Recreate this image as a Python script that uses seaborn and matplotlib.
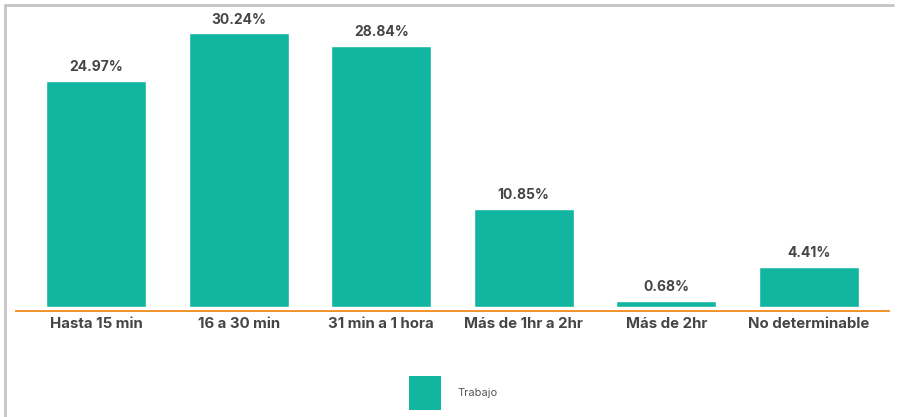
import matplotlib
matplotlib.use("Agg")
import matplotlib.pyplot as plt
import seaborn as sns
import pandas as pd
from matplotlib.patches import Patch
from matplotlib.lines import Line2D

categories = ["Hasta 15 min", "16 a 30 min", "31 min a 1 hora", "Más de 1hr a 2hr", "Más de 2hr", "No determinable"]
values = [24.97, 30.24, 28.84, 10.85, 0.68, 4.41]
labels = ["24.97%", "30.24%", "28.84%", "10.85%", "0.68%", "4.41%"]
series = "Trabajo"

bar_color = "#12b5a0"
orange = "#f0922a"
text_color = "#454545"

sns.set_theme(style="white")
plt.rcParams["font.family"] = ["Inter", "DejaVu Sans"]

df = pd.DataFrame({"cat": categories, "val": values, "serie": series})

fig = plt.figure(figsize=(9, 4.17), dpi=100)
ax = fig.add_axes([15 / 900, (417 - 311.5) / 417, 875 / 900, (311.5 - 15) / 417])
sns.barplot(data=df, x="cat", y="val", color=bar_color, width=0.70,
            saturation=1, ax=ax, legend=False)

ax.set_xlim(-0.57, 5.57)
ax.set_ylim(-0.53, 32.27)
ax.axhline(-0.53, color=orange, lw=3.5, zorder=5)

for i, (v, lab) in enumerate(zip(values, labels)):
    ax.text(i, v + 0.75, lab, ha="center", va="bottom", fontsize=10,
            fontweight="bold", color=text_color)

ax.set_xlabel("")
ax.set_ylabel("")
ax.set_yticks([])
ax.tick_params(axis="x", length=0, pad=4)
for t in ax.get_xticklabels():
    t.set_fontsize(10.8)
    t.set_fontweight("bold")
    t.set_color(text_color)
for s in ax.spines.values():
    s.set_visible(False)

handle = Patch(facecolor=bar_color, edgecolor="none", label=series)
fig.legend(handles=[handle], loc="center left", bbox_to_anchor=(409 / 900, 1 - 393 / 417),
           frameon=False, fontsize=8, handlelength=2.9, handleheight=4.3,
           handletextpad=1.5, borderpad=0, borderaxespad=0, labelcolor="#555555")

# screenshot border (top & left)
fig.add_artist(Line2D([5 / 900, 893 / 900], [1 - 5 / 417, 1 - 5 / 417],
                      transform=fig.transFigure, color="#c4c4c4", lw=2))
fig.add_artist(Line2D([5 / 900, 5 / 900], [0, 1 - 5 / 417],
                      transform=fig.transFigure, color="#c4c4c4", lw=2))

fig.savefig("out.png", dpi=100, facecolor="white")
